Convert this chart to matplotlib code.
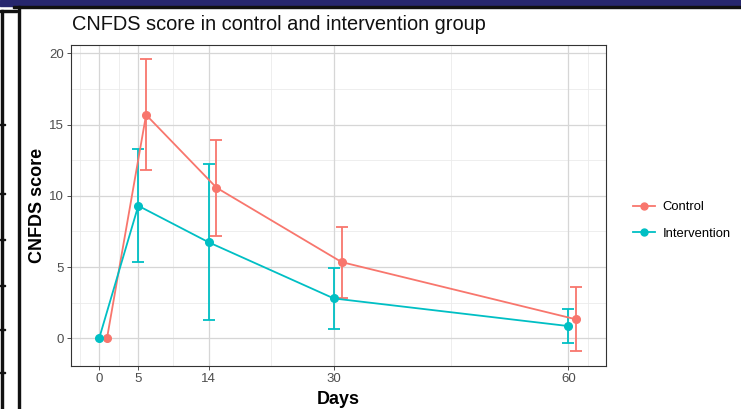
import matplotlib
matplotlib.use("Agg")
import matplotlib.pyplot as plt
from matplotlib.lines import Line2D
from matplotlib.patches import Rectangle
import numpy as np

plt.rcParams["font.family"] = ["Liberation Sans", "DejaVu Sans"]

# ---- data ----
days = [0, 5, 14, 30, 60]
control_mean = [0, 15.68, 10.57, 5.35, 1.33]
control_lo = [0, 11.8, 7.15, 2.83, -0.87]
control_hi = [0, 19.6, 13.95, 7.8, 3.57]
intervention_mean = [0, 9.3, 6.74, 2.8, 0.86]
intervention_lo = [0, 5.35, 1.28, 0.63, -0.35]
intervention_hi = [0, 13.27, 12.22, 4.96, 2.08]
groups = ["Control", "Intervention"]
colors = ["#F8766D", "#00BFC4"]
x_ticks = [0, 5, 14, 30, 60]
y_ticks = [0, 5, 10, 15, 20]
x_minor = [-2.5, 2.5, 9.5, 22, 45, 62.5]
y_minor = [2.5, 7.5, 12.5, 17.5]
title = "CNFDS score in control and intervention group"
xlabel = "Days"
ylabel = "CNFDS score"
dodge = [1.0, 0.0]

W, H = 741, 409
fig = plt.figure(figsize=(W / 100, H / 100), dpi=100)
fig.patch.set_facecolor("white")

# slide decorations
def px(x0, y0, w, h, color):
    fig.patches.append(Rectangle((x0 / W, 1 - (y0 + h) / H), w / W, h / H,
                                 transform=fig.transFigure, color=color, zorder=0))

px(0, 0, W, 6, "#27276e")
px(13, 6, W - 13, 2.2, "#111111")
px(17.5, 6, 2.6, H - 6, "#111111")
px(0, 10, 17, 1.6, "#111111")
px(1.2, 10, 1.6, H - 10, "#111111")
for yy in [124, 193, 239, 285, 329, 372]:
    px(0, yy, 5, 1.2, "#111111")

ax = fig.add_axes([71 / W, 1 - 366 / H, (606 - 71) / W, (366 - 45) / H])
ax.set_xlim(-3.6, 64.8)
ax.set_ylim(-1.94, 20.58)

for v in x_minor:
    ax.axvline(v, color="#ebebeb", lw=0.6, zorder=0)
for v in y_minor:
    ax.axhline(v, color="#ebebeb", lw=0.6, zorder=0)
for v in x_ticks:
    ax.axvline(v, color="#d6d6d6", lw=0.9, zorder=0)
for v in y_ticks:
    ax.axhline(v, color="#d6d6d6", lw=0.9, zorder=0)

series = [(control_mean, control_lo, control_hi), (intervention_mean, intervention_lo, intervention_hi)]
for (m, lo, hi), c, d in zip(series, colors, dodge):
    xs = np.array(days, dtype=float) + d
    m = np.array(m); lo = np.array(lo); hi = np.array(hi)
    has_err = (hi - lo) > 0
    ax.errorbar(xs[has_err], m[has_err], yerr=[(m - lo)[has_err], (hi - m)[has_err]],
                color=c, capsize=4.5, capthick=1.3, elinewidth=1.3, zorder=3, fmt="none")
    ax.plot(xs, m, color=c, lw=1.3, marker="o", markersize=5.5, zorder=4)

ax.set_xticks(x_ticks)
ax.set_yticks(y_ticks)
ax.tick_params(axis="both", labelsize=9.5, colors="#333333", labelcolor="#4d4d4d",
               length=3, width=0.6, pad=2)
for s in ax.spines.values():
    s.set_color("#333333")
    s.set_linewidth(0.8)

ax.set_xlabel(xlabel, fontsize=13, fontweight="bold", labelpad=4)
ax.set_ylabel(ylabel, fontsize=13, fontweight="bold", labelpad=2)
fig.text(72 / W, 1 - 24 / H, title, fontsize=14.4, va="center", ha="left", color="#111111")

handles = [Line2D([0], [0], color=c, lw=1.3, marker="o", markersize=5) for c in colors]
fig.legend(handles, groups, loc="center left", bbox_to_anchor=(621 / W, 1 - 220.5 / H),
           frameon=False, fontsize=9.4, handlelength=1.7, labelspacing=1.1, handletextpad=0.6)

fig.savefig("out.png", dpi=100, facecolor="white")
